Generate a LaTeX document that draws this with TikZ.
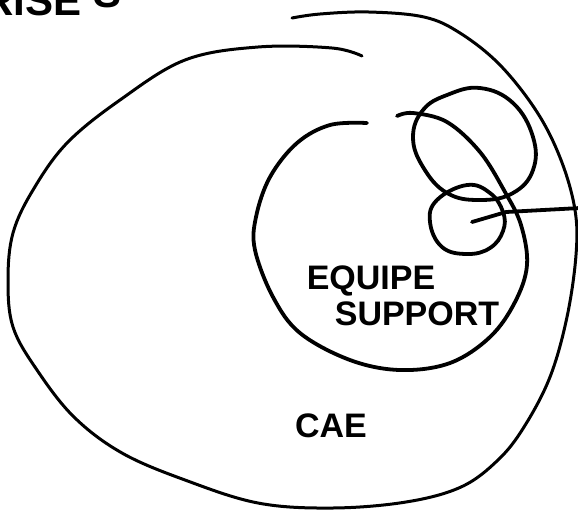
\documentclass[tikz,border=0pt]{standalone}
\usepackage{fontspec}
\setmainfont{Liberation Sans}
\usetikzlibrary{positioning}

\begin{document}
\begin{tikzpicture}[x=0.5pt,y=-0.5pt,line cap=round,line join=round,
  pen/.style={line width=1.9pt,black},
  thinpen/.style={line width=1.5pt,black},
  hand/.style={font=\fontsize{17}{17}\selectfont\bfseries,inner sep=0pt}]
  \useasboundingbox (0,0) rectangle (578,511);
  \clip (0,0) rectangle (578,511);
  % cut-off title at the top
  \node[hand,font=\fontsize{21}{21}\selectfont\bfseries,anchor=base west] (title) at (-17,15) {RISE \raisebox{4pt}{S}};
  % outer loop (CAE)
  \draw[thinpen] plot[smooth,tension=0.6] coordinates {(362,56) (332,48) (258,47) (185,60) (120,100) (67,143) (33,190) (13,233) (8,280) (13,327) (37,370) (74,417) (122,453) (185,480) (258,503) (332,508) (406,502) (461,487) (498,460) (524,427) (550,377) (567,317) (576,255) (575,210) (561,160) (537,112) (500,65) (460,33) (424,17) (369,12) (320,14) (292,18)};
  % inner loop (equipe support)
  \draw[pen] plot[smooth,tension=0.6] coordinates {(367,123) (330,125) (297,143) (270,177) (256,217) (255,250) (273,297) (300,333) (350,360) (400,370) (450,363) (490,337) (515,302) (527,265) (521,225) (505,192) (480,152) (447,122) (413,113) (397,116)};
  % small loops
  \draw[pen] plot[smooth cycle,tension=0.7] coordinates {(480,88) (513,103) (533,137) (533,170) (513,193) (480,200) (447,193) (423,167) (413,137) (423,110) (447,95)};
  \draw[pen] plot[smooth cycle,tension=0.7] coordinates {(467,185) (490,193) (503,212) (503,231) (490,248) (467,254) (442,247) (430,222) (437,200)};
  \coordinate (dot) at (472,222);
  \coordinate (edge) at (580,208);
  \draw[pen] (dot) -- (506,212) -- (edge);
  % labels
  \node[hand] (equipe) at (371,281) {EQUIPE};
  \node[hand,below=2.5pt of equipe.south,xshift=23pt] (support) {SUPPORT};
  \node[hand] (cae) at (331,426) {CAE};
\end{tikzpicture}
\end{document}
